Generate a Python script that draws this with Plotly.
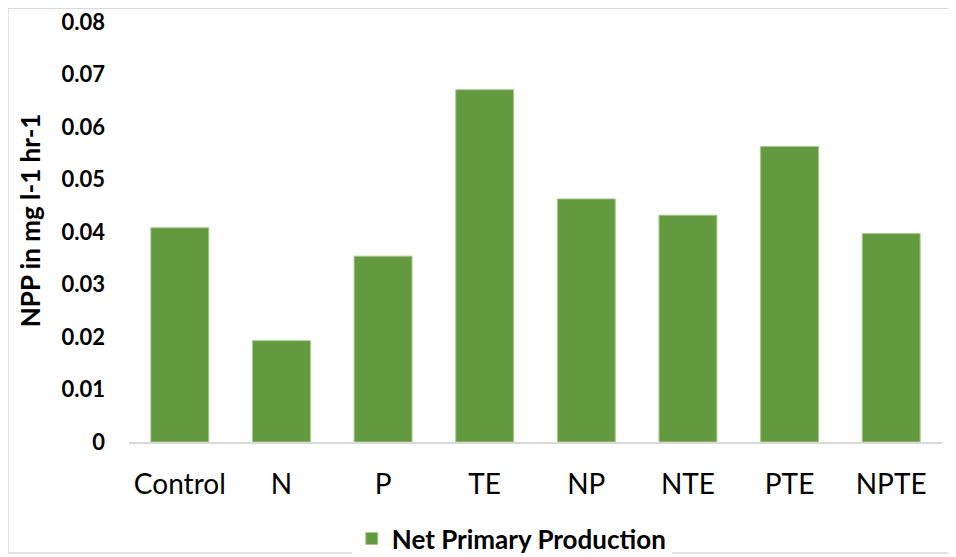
import plotly.graph_objects as go

categories = ["Control", "N", "P", "TE", "NP", "NTE", "PTE", "NPTE"]
npp_values = [0.0408, 0.0193, 0.0354, 0.0671, 0.0463, 0.0432, 0.0563, 0.0397]
y_ticks = [0, 0.01, 0.02, 0.03, 0.04, 0.05, 0.06, 0.07, 0.08]
y_tick_labels = ["0", "0.01", "0.02", "0.03", "0.04", "0.05", "0.06", "0.07", "0.08"]
series_name = "Net Primary Production"
y_title = "NPP in mg l-1 hr-1"

FONT = "Lato, Carlito, Calibri, 'Open Sans', sans-serif"

fig = go.Figure()
fig.add_trace(go.Bar(
    x=categories,
    y=npp_values,
    name=series_name,
    marker=dict(color="#63993F", line=dict(color="#a9c98f", width=1)),
    showlegend=True,
))

fig.update_layout(
    width=956,
    height=557,
    margin=dict(l=121, r=22, t=14, b=123, autoexpand=False),
    paper_bgcolor="white",
    plot_bgcolor="white",
    bargap=0.43,
    font=dict(family=FONT, color="#000000"),
    xaxis=dict(
        showgrid=False,
        showline=True,
        linecolor="#d9d9d9",
        linewidth=2,
        ticks="",
        automargin=False,
        tickfont=dict(size=28, family=FONT, color="#000000"),
        ticklabelstandoff=16,
    ),
    yaxis=dict(
        range=[0, 0.08],
        tickvals=y_ticks,
        ticktext=y_tick_labels,
        showgrid=False,
        zeroline=False,
        showline=False,
        ticks="",
        automargin=False,
        ticklabeloverflow="allow",
        tickfont=dict(size=22, family=FONT, color="#000000", weight="bold"),
        ticklabelstandoff=23,
    ),
    legend=dict(
        orientation="h",
        x=0.274,
        xanchor="left",
        y=-0.174,
        yanchor="top",
        font=dict(size=26, family=FONT, color="#000000", weight="bold"),
        itemwidth=30,
    ),
    annotations=[dict(
        text=y_title, xref="paper", yref="paper",
        x=(30 - 129) / 813, y=0.528, xanchor="center", yanchor="middle",
        textangle=-90, showarrow=False,
        font=dict(size=26, family=FONT, color="#000000", weight="bold"),
    )],
    shapes=[dict(
        type="rect", xref="paper", yref="paper",
        x0=-0.1488, x1=1.0135, y0=-0.264, y1=1.033,
        line=dict(color="#d9d9d9", width=1.5),
        fillcolor="rgba(0,0,0,0)",
    )],
)

fig.write_html("out.html")
